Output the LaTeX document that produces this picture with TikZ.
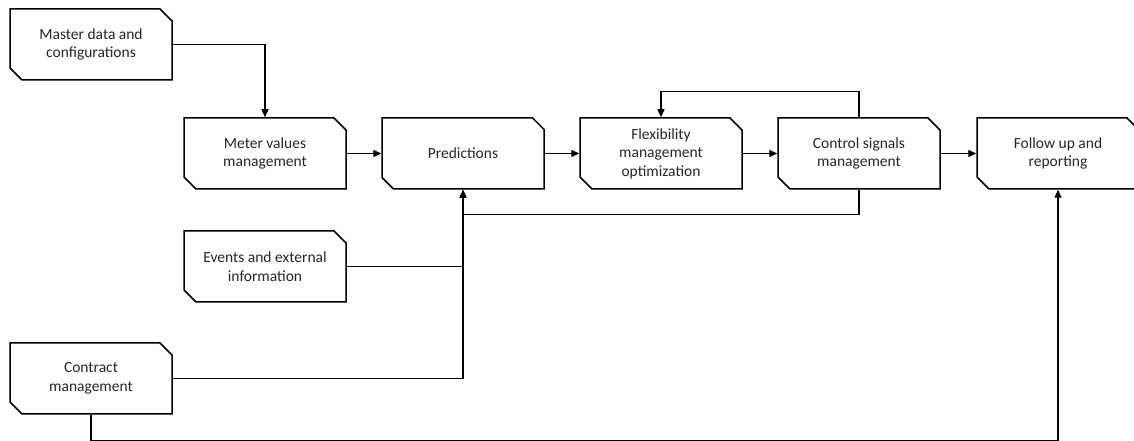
\documentclass[tikz,border=0pt]{standalone}
\usepackage{fontspec}
\setmainfont{Carlito}
\usetikzlibrary{shapes.misc,arrows.meta}
\begin{document}
\begin{tikzpicture}[x=1pt,y=1pt,
  proc/.style={chamfered rectangle, chamfered rectangle corners={north east,south west},
    chamfered rectangle xsep=6pt, chamfered rectangle ysep=6pt,
    draw=black, line width=1.5pt, minimum width=162pt, minimum height=71pt,
    inner sep=0pt, align=center, font=\fontsize{15.5pt}{18.5pt}\selectfont, text=black!85},
  conn/.style={draw=black, line width=1.3pt},
  arr/.style={conn, -{Triangle[length=8pt,width=7pt]}}]
\useasboundingbox (0,0) rectangle (1134,441);
\fill[white] (0,0) rectangle (1134,441);
\node[proc] (master) at (91,396.5) {Master data and\\configurations};
\node[proc] (meter) at (265,287.5) {Meter values\\management};
\node[proc] (pred) at (463,287.5) {Predictions};
\node[proc] (flex) at (661,287.5) {Flexibility\\management\\optimization};
\node[proc] (ctrl) at (859,287.5) {Control signals\\management};
\node[proc] (follow) at (1058,287.5) {Follow up and\\reporting};
\node[proc] (events) at (265,174.5) {Events and external\\information};
\node[proc] (contract) at (91,62.5) {Contract\\management};
\coordinate (loopR) at ([yshift=26pt]ctrl.north);
\coordinate (fb) at ([yshift=-25pt]ctrl.south);
\coordinate (bot) at ([yshift=-26pt]contract.south);
\draw[arr] (master.east) -| (meter.north);
\draw[arr] (meter.east) -- (pred.west);
\draw[arr] (pred.east) -- (flex.west);
\draw[arr] (flex.east) -- (ctrl.west);
\draw[arr] (ctrl.east) -- (follow.west);
\draw[arr] (ctrl.north) -- (loopR) -| (flex.north);
\draw[arr] (ctrl.south) -- (fb) -| (pred.south);
\draw[conn] (events.east) -- (events.east -| pred.south);
\draw[arr] (contract.east) -| (pred.south);
\draw[arr] (contract.south) -- (bot) -| (follow.south);
\end{tikzpicture}
\end{document}
